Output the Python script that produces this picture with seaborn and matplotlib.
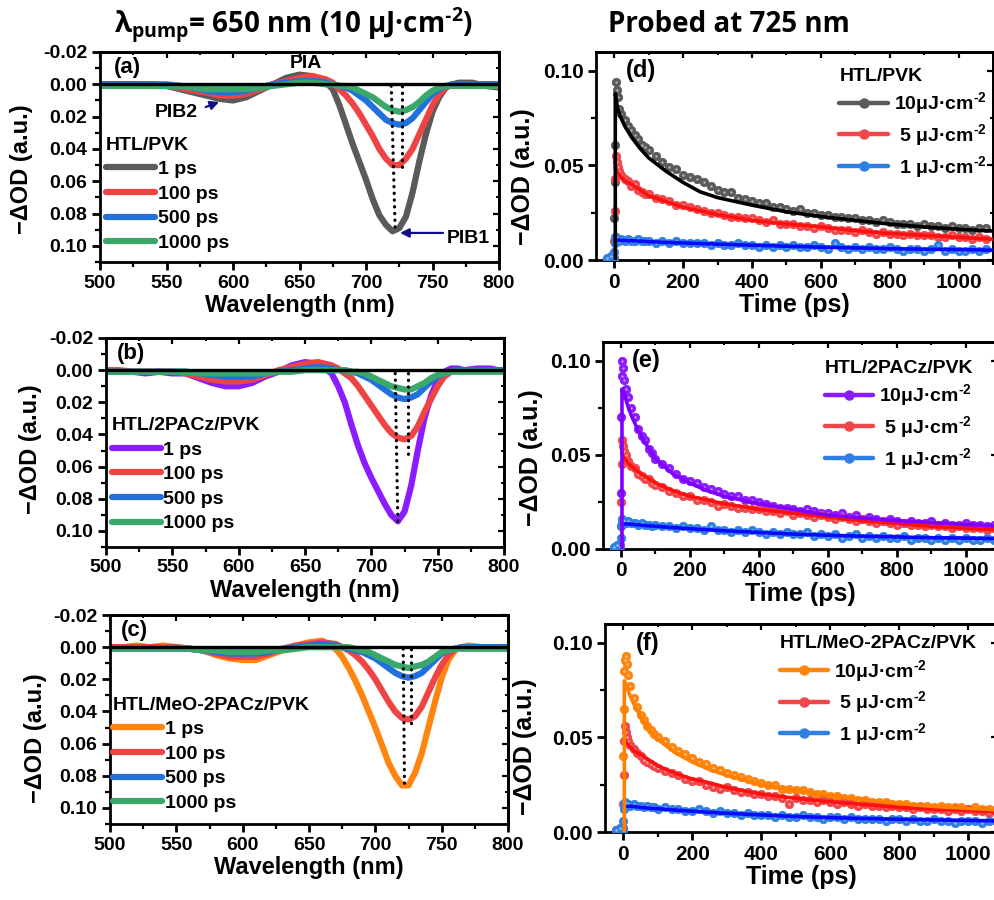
import matplotlib
matplotlib.use("Agg")
import matplotlib.pyplot as plt
from matplotlib.lines import Line2D
from matplotlib.ticker import MultipleLocator, FormatStrFormatter
import seaborn as sns

sns.set_style("ticks")
plt.rcParams.update({
    "font.family": ["Liberation Sans", "DejaVu Sans"],
    "font.weight": "bold",
    "axes.labelweight": "bold",
    "mathtext.default": "regular",
    "axes.unicode_minus": False,
    "axes.linewidth": 2.0,
    "axes.edgecolor": "black",
    "axes.labelcolor": "black",
    "text.color": "black",
    "xtick.color": "black",
    "ytick.color": "black",
    "xtick.labelcolor": "black",
    "ytick.labelcolor": "black",
})

# ---------------- transient absorption spectra ----------------
WL = [500, 510, 520, 530, 540, 550, 560, 570, 580, 590,
      600, 610, 620, 630, 640, 650, 660, 670, 675, 680,
      685, 690, 695, 700, 705, 710, 715, 720, 725, 730,
      735, 740, 745, 750, 755, 760, 765, 770, 780, 790, 800]
DELAYS = ["1 ps", "100 ps", "500 ps", "1000 ps"]

a_1ps = [0.000, 0.000, 0.000, 0.000, 0.001, 0.001, 0.003, 0.005, 0.007, 0.009,
         0.010, 0.008, 0.004, 0.000, -0.004, -0.006, -0.005, -0.001, 0.003, 0.013,
         0.025, 0.037, 0.048, 0.059, 0.071, 0.081, 0.087, 0.091, 0.089, 0.082,
         0.067, 0.048, 0.031, 0.017, 0.008, 0.002, 0.000, -0.001, -0.001, 0.001, 0.002]
a_100ps = [0.000, 0.000, 0.000, 0.000, 0.000, 0.001, 0.002, 0.004, 0.005, 0.007,
           0.007, 0.006, 0.003, 0.000, -0.002, -0.004, -0.005, -0.003, -0.001, 0.003,
           0.007, 0.012, 0.018, 0.025, 0.032, 0.040, 0.046, 0.050, 0.050, 0.046,
           0.040, 0.031, 0.022, 0.013, 0.006, 0.002, 0.000, 0.000, 0.000, 0.000, 0.000]
a_500ps = [0.000, 0.000, 0.000, 0.000, 0.000, 0.000, 0.001, 0.002, 0.004, 0.005,
           0.005, 0.004, 0.002, 0.000, -0.001, -0.002, -0.002, -0.001, 0.000, 0.001,
           0.002, 0.004, 0.007, 0.010, 0.014, 0.018, 0.022, 0.024, 0.025, 0.024,
           0.021, 0.016, 0.011, 0.006, 0.003, 0.001, 0.000, 0.000, 0.000, 0.000, 0.000]
a_1000ps = [0.001, 0.001, 0.001, 0.001, 0.001, 0.001, 0.001, 0.002, 0.003, 0.003,
            0.003, 0.003, 0.002, 0.001, 0.000, -0.001, -0.001, 0.000, 0.000, 0.001,
            0.001, 0.002, 0.004, 0.006, 0.008, 0.011, 0.014, 0.016, 0.017, 0.016,
            0.014, 0.011, 0.007, 0.004, 0.002, 0.001, 0.001, 0.001, 0.001, 0.001, 0.001]

b_1ps = [0.001, 0.001, 0.001, 0.002, 0.001, 0.002, 0.002, 0.005, 0.008, 0.010,
         0.010, 0.008, 0.004, 0.001, -0.003, -0.005, -0.004, 0.002, 0.010, 0.020,
         0.034, 0.047, 0.058, 0.067, 0.075, 0.083, 0.090, 0.094, 0.088, 0.072,
         0.050, 0.030, 0.016, 0.006, 0.001, -0.001, -0.001, 0.000, -0.001, -0.001, 0.001]
b_100ps = [0.000, 0.000, 0.001, 0.001, 0.001, 0.001, 0.002, 0.004, 0.006, 0.007,
           0.007, 0.006, 0.003, 0.000, -0.002, -0.004, -0.005, -0.003, -0.001, 0.002,
           0.005, 0.010, 0.016, 0.022, 0.028, 0.034, 0.039, 0.042, 0.043, 0.041,
           0.035, 0.026, 0.018, 0.010, 0.004, 0.001, 0.000, 0.000, 0.000, 0.000, 0.000]
b_500ps = [0.001, 0.001, 0.001, 0.001, 0.001, 0.001, 0.001, 0.002, 0.003, 0.004,
           0.004, 0.004, 0.002, 0.001, 0.000, -0.001, -0.002, -0.001, 0.000, 0.000,
           0.001, 0.002, 0.004, 0.006, 0.009, 0.012, 0.015, 0.017, 0.018, 0.017,
           0.015, 0.011, 0.007, 0.004, 0.002, 0.001, 0.000, 0.000, 0.000, 0.000, 0.000]
b_1000ps = [0.001, 0.001, 0.001, 0.001, 0.001, 0.001, 0.001, 0.002, 0.002, 0.002,
            0.002, 0.002, 0.002, 0.001, 0.001, 0.000, 0.000, 0.000, 0.000, 0.000,
            0.001, 0.001, 0.002, 0.004, 0.006, 0.008, 0.010, 0.011, 0.012, 0.012,
            0.010, 0.008, 0.005, 0.003, 0.002, 0.001, 0.001, 0.001, 0.001, 0.001, 0.001]

c_1ps = [0.000, 0.000, -0.001, 0.000, -0.001, 0.000, 0.001, 0.002, 0.005, 0.007,
         0.008, 0.008, 0.005, 0.002, -0.001, -0.003, -0.004, 0.001, 0.006, 0.013,
         0.021, 0.030, 0.040, 0.050, 0.061, 0.072, 0.080, 0.086, 0.086, 0.078,
         0.066, 0.050, 0.034, 0.019, 0.008, 0.002, 0.000, -0.001, 0.000, 0.000, 0.001]
c_100ps = [0.000, 0.000, 0.000, 0.000, 0.000, 0.000, 0.001, 0.002, 0.004, 0.006,
           0.006, 0.006, 0.004, 0.001, -0.001, -0.002, -0.003, -0.002, 0.000, 0.002,
           0.005, 0.009, 0.014, 0.020, 0.027, 0.034, 0.040, 0.044, 0.045, 0.043,
           0.037, 0.028, 0.019, 0.011, 0.005, 0.001, 0.000, 0.000, 0.000, 0.000, 0.000]
c_500ps = [0.001, 0.001, 0.001, 0.001, 0.001, 0.001, 0.001, 0.002, 0.003, 0.004,
           0.004, 0.004, 0.003, 0.001, 0.000, -0.001, -0.002, -0.001, 0.000, 0.001,
           0.002, 0.003, 0.005, 0.007, 0.010, 0.013, 0.016, 0.018, 0.019, 0.018,
           0.016, 0.012, 0.008, 0.004, 0.002, 0.001, 0.000, 0.000, 0.000, 0.000, 0.000]
c_1000ps = [0.001, 0.001, 0.001, 0.001, 0.001, 0.001, 0.001, 0.002, 0.002, 0.003,
            0.003, 0.003, 0.002, 0.002, 0.001, 0.000, 0.000, 0.000, 0.000, 0.000,
            0.001, 0.002, 0.003, 0.005, 0.007, 0.009, 0.011, 0.012, 0.013, 0.012,
            0.011, 0.009, 0.006, 0.003, 0.002, 0.001, 0.001, 0.001, 0.001, 0.001, 0.001]

# bleach-peak guide lines: (x0, y0, x1, y1)
a_guides = [(719, 0.001, 722, 0.092), (727, 0.001, 727, 0.053)]
b_guides = [(718, 0.002, 720, 0.096), (728, 0.002, 728, 0.052)]
c_guides = [(721, 0.001, 722, 0.088), (727, 0.001, 727, 0.049)]

# ---------------- kinetics probed at 725 nm ----------------
T = [-20, -10, -2, 0, 1, 2, 4, 7, 10, 15, 20, 30, 40, 50, 60, 70, 80, 90,
     100, 120, 140, 160, 180, 200, 220, 240, 260, 280, 300, 320, 340, 360, 380, 400,
     420, 440, 460, 480, 500, 520, 540, 560, 580, 600, 620, 640, 660, 680, 700,
     720, 740, 760, 780, 800, 820, 840, 860, 880, 900, 920, 940, 960, 980, 1000,
     1020, 1040, 1060, 1080]
T_FIT = [3, 10, 20, 30, 50, 75, 100, 150, 200, 250, 300, 400, 500, 600, 700, 800, 900, 1000, 1100]
FLUENCES = ["10μJ·cm$^{\u2010 2}$", " 5 μJ·cm$^{\u2010 2}$", " 1 μJ·cm$^{\u2010 2}$"]

d_10 = [0.000, 0.001, 0.000, 0.022, 0.041, 0.061, 0.094, 0.090, 0.086, 0.080, 0.077, 0.074, 0.071, 0.069, 0.066, 0.064, 0.061, 0.060,
        0.058, 0.055, 0.052, 0.049, 0.048, 0.045, 0.044, 0.043, 0.041, 0.039, 0.037, 0.036, 0.036, 0.033, 0.032, 0.031,
        0.030, 0.030, 0.028, 0.028, 0.027, 0.026, 0.027, 0.025, 0.025, 0.024, 0.024, 0.023, 0.023, 0.022, 0.022,
        0.021, 0.021, 0.020, 0.021, 0.020, 0.019, 0.019, 0.019, 0.018, 0.019, 0.018, 0.018, 0.017, 0.018, 0.017,
        0.017, 0.016, 0.017, 0.017]
d_5 = [0.000, 0.001, 0.001, 0.010, 0.026, 0.043, 0.055, 0.052, 0.049, 0.047, 0.045, 0.043, 0.042, 0.039, 0.040, 0.037, 0.036, 0.035,
       0.035, 0.033, 0.032, 0.031, 0.029, 0.029, 0.028, 0.027, 0.026, 0.025, 0.025, 0.024, 0.023, 0.023, 0.022, 0.022,
       0.021, 0.020, 0.021, 0.019, 0.019, 0.019, 0.018, 0.018, 0.017, 0.018, 0.017, 0.016, 0.016, 0.016, 0.015,
       0.016, 0.015, 0.014, 0.015, 0.014, 0.014, 0.013, 0.014, 0.013, 0.013, 0.013, 0.012, 0.012, 0.013, 0.012,
       0.012, 0.011, 0.012, 0.011]
d_1 = [0.001, 0.002, 0.001, 0.004, 0.009, 0.012, 0.012, 0.011, 0.011, 0.010, 0.011, 0.010, 0.011, 0.010, 0.010, 0.011, 0.010, 0.010,
       0.010, 0.009, 0.010, 0.009, 0.010, 0.009, 0.009, 0.009, 0.009, 0.008, 0.009, 0.008, 0.008, 0.009, 0.008, 0.008,
       0.007, 0.008, 0.007, 0.008, 0.007, 0.008, 0.007, 0.007, 0.008, 0.007, 0.006, 0.009, 0.007, 0.006, 0.007,
       0.006, 0.007, 0.006, 0.006, 0.007, 0.006, 0.005, 0.006, 0.006, 0.005, 0.006, 0.008, 0.005, 0.006, 0.005,
       0.005, 0.006, 0.005, 0.006]
d_fit10 = [0.088, 0.080, 0.075, 0.071, 0.065, 0.059, 0.054, 0.047, 0.041, 0.036, 0.033, 0.029, 0.0255, 0.023, 0.021, 0.019, 0.0175, 0.0163, 0.0153]
d_fit5 = [0.049, 0.046, 0.044, 0.042, 0.040, 0.037, 0.034, 0.031, 0.028, 0.026, 0.024, 0.021, 0.019, 0.0175, 0.0155, 0.014, 0.013, 0.012, 0.011]
d_fit1 = [0.0105, 0.0105, 0.0104, 0.0103, 0.0102, 0.0100, 0.0097, 0.0093, 0.0090, 0.0087, 0.0084, 0.0078, 0.0073, 0.0068, 0.0064, 0.0060, 0.0057, 0.0055, 0.0052]

e_10 = [0.000, 0.001, 0.002, 0.030, 0.070, 0.092, 0.100, 0.096, 0.090, 0.085, 0.081, 0.075, 0.070, 0.064, 0.060, 0.058, 0.053, 0.051,
        0.048, 0.045, 0.043, 0.040, 0.037, 0.036, 0.035, 0.033, 0.032, 0.031, 0.029, 0.028, 0.028, 0.026, 0.026, 0.025,
        0.024, 0.023, 0.022, 0.022, 0.021, 0.020, 0.021, 0.020, 0.019, 0.019, 0.018, 0.019, 0.017, 0.018, 0.016,
        0.017, 0.016, 0.015, 0.016, 0.015, 0.014, 0.015, 0.014, 0.014, 0.015, 0.013, 0.014, 0.013, 0.013, 0.014,
        0.013, 0.013, 0.012, 0.013]
e_5 = [0.000, 0.001, 0.002, 0.012, 0.025, 0.045, 0.058, 0.055, 0.052, 0.050, 0.047, 0.044, 0.043, 0.040, 0.039, 0.037, 0.037, 0.035,
       0.034, 0.033, 0.031, 0.030, 0.028, 0.028, 0.026, 0.026, 0.025, 0.023, 0.024, 0.023, 0.022, 0.022, 0.021, 0.021,
       0.020, 0.020, 0.019, 0.020, 0.018, 0.019, 0.018, 0.017, 0.018, 0.017, 0.016, 0.017, 0.016, 0.015, 0.016,
       0.015, 0.014, 0.015, 0.014, 0.013, 0.014, 0.013, 0.013, 0.012, 0.013, 0.012, 0.012, 0.011, 0.012, 0.011,
       0.011, 0.011, 0.010, 0.011]
e_1 = [0.001, 0.002, 0.001, 0.006, 0.012, 0.015, 0.016, 0.015, 0.015, 0.014, 0.015, 0.014, 0.014, 0.013, 0.014, 0.013, 0.013, 0.012,
       0.013, 0.012, 0.012, 0.011, 0.012, 0.011, 0.011, 0.010, 0.012, 0.010, 0.010, 0.009, 0.010, 0.009, 0.010, 0.009,
       0.008, 0.009, 0.008, 0.009, 0.008, 0.008, 0.009, 0.007, 0.008, 0.007, 0.008, 0.006, 0.007, 0.008, 0.006,
       0.007, 0.006, 0.007, 0.006, 0.006, 0.007, 0.005, 0.006, 0.006, 0.005, 0.006, 0.005, 0.006, 0.005, 0.006,
       0.005, 0.005, 0.006, 0.005]
e_fit10 = [0.085, 0.082, 0.076, 0.071, 0.063, 0.055, 0.048, 0.040, 0.035, 0.031, 0.028, 0.024, 0.021, 0.018, 0.0165, 0.015, 0.014, 0.013, 0.012]
e_fit5 = [0.050, 0.048, 0.046, 0.044, 0.041, 0.038, 0.035, 0.031, 0.028, 0.026, 0.024, 0.021, 0.019, 0.017, 0.015, 0.0135, 0.012, 0.011, 0.010]
e_fit1 = [0.0135, 0.0134, 0.0133, 0.0132, 0.0128, 0.0124, 0.0121, 0.0114, 0.0108, 0.0102, 0.0097, 0.0088, 0.0079, 0.0073, 0.0068, 0.0064, 0.0060, 0.0058, 0.0055]

f_10 = [0.001, 0.000, 0.002, 0.040, 0.065, 0.085, 0.091, 0.093, 0.089, 0.083, 0.077, 0.071, 0.066, 0.062, 0.059, 0.056, 0.054, 0.052,
        0.050, 0.048, 0.045, 0.043, 0.041, 0.039, 0.037, 0.036, 0.034, 0.033, 0.031, 0.030, 0.029, 0.028, 0.027, 0.026,
        0.025, 0.025, 0.023, 0.023, 0.022, 0.022, 0.021, 0.020, 0.020, 0.019, 0.019, 0.018, 0.018, 0.017, 0.017,
        0.016, 0.016, 0.016, 0.015, 0.015, 0.015, 0.014, 0.014, 0.014, 0.013, 0.014, 0.013, 0.013, 0.013, 0.012,
        0.013, 0.012, 0.012, 0.012]
f_5 = [0.001, 0.000, 0.002, 0.015, 0.030, 0.048, 0.056, 0.053, 0.050, 0.048, 0.046, 0.044, 0.042, 0.040, 0.038, 0.037, 0.036, 0.035,
       0.034, 0.032, 0.031, 0.030, 0.028, 0.027, 0.027, 0.025, 0.024, 0.023, 0.024, 0.022, 0.021, 0.021, 0.020, 0.020,
       0.019, 0.019, 0.018, 0.015, 0.018, 0.017, 0.017, 0.016, 0.017, 0.016, 0.015, 0.016, 0.015, 0.014, 0.015,
       0.014, 0.014, 0.013, 0.014, 0.013, 0.013, 0.012, 0.013, 0.012, 0.012, 0.012, 0.011, 0.012, 0.011, 0.012,
       0.011, 0.011, 0.010, 0.011]
f_1 = [0.001, 0.002, 0.001, 0.006, 0.012, 0.015, 0.016, 0.015, 0.015, 0.015, 0.014, 0.015, 0.014, 0.014, 0.013, 0.014, 0.013, 0.013,
       0.012, 0.013, 0.012, 0.012, 0.011, 0.011, 0.012, 0.011, 0.010, 0.011, 0.010, 0.010, 0.009, 0.010, 0.009, 0.009,
       0.009, 0.008, 0.009, 0.008, 0.008, 0.009, 0.008, 0.008, 0.007, 0.008, 0.008, 0.007, 0.008, 0.007, 0.007,
       0.007, 0.007, 0.006, 0.007, 0.007, 0.006, 0.007, 0.006, 0.006, 0.007, 0.006, 0.006, 0.005, 0.006, 0.006,
       0.006, 0.005, 0.006, 0.006]
f_fit10 = [0.080, 0.077, 0.072, 0.068, 0.061, 0.054, 0.049, 0.042, 0.037, 0.033, 0.030, 0.025, 0.022, 0.019, 0.017, 0.015, 0.0135, 0.0125, 0.0115]
f_fit5 = [0.049, 0.047, 0.045, 0.043, 0.041, 0.038, 0.035, 0.031, 0.028, 0.026, 0.0235, 0.020, 0.0178, 0.016, 0.0145, 0.013, 0.012, 0.0113, 0.0105]
f_fit1 = [0.0138, 0.0137, 0.0136, 0.0135, 0.0130, 0.0126, 0.0123, 0.0116, 0.0110, 0.0104, 0.0099, 0.0090, 0.0082, 0.0076, 0.0071, 0.0067, 0.0064, 0.0061, 0.0058]

# colours
GRAY, RED, BLUE, GREEN = "#5a5a5a", "#ef4444", "#2171dd", "#3aa86a"
PURPLE, ORANGE = "#8b1cff", "#ff8410"
KIN_RED, KIN_BLUE = "#f0474a", "#2f80e2"

W, H = 995, 900
fig = plt.figure(figsize=(W / 100, H / 100), dpi=100)


def rect(l, t, r, b):
    return [l / W, 1 - b / H, (r - l) / W, (b - t) / H]


def style_axes(ax, xmaj, xmin, ymaj, ymin, labelsize):
    ax.xaxis.set_major_locator(MultipleLocator(xmaj))
    ax.xaxis.set_minor_locator(MultipleLocator(xmin))
    ax.yaxis.set_major_locator(MultipleLocator(ymaj))
    ax.yaxis.set_minor_locator(MultipleLocator(ymin))
    ax.yaxis.set_major_formatter(FormatStrFormatter("%.2f"))
    ax.tick_params(which="major", direction="out", length=6, width=2.0,
                   labelsize=labelsize, pad=3, colors="black")
    ax.tick_params(which="minor", direction="out", length=3.5, width=1.6, colors="black")
    for side, axis in (("top", "x"), ("right", "y")):
        sec = ax.secondary_xaxis(side) if axis == "x" else ax.secondary_yaxis(side)
        loc = sec.xaxis if axis == "x" else sec.yaxis
        loc.set_major_locator(MultipleLocator(xmaj if axis == "x" else ymaj))
        loc.set_minor_locator(MultipleLocator(xmin if axis == "x" else ymin))
        sec.tick_params(which="major", direction="in", length=4, width=1.6,
                        labeltop=False, labelright=False, colors="black")
        sec.tick_params(which="minor", direction="in", length=2.5, width=1.4, colors="black")
        sec.spines[side].set_linewidth(2.0)
        sec.spines[side].set_color("black")


def draw_spectra(box, curves, colors, sample, guides, tag, tag_xy, leg_xy, ylab_xy):
    ax = fig.add_axes(rect(*box))
    for vals, c in zip(curves, colors):
        sns.lineplot(x=WL, y=vals, ax=ax, color=c, linewidth=4.5, estimator=None,
                     sort=False, legend=False, zorder=2)
    ax.axhline(0, color="black", lw=2.4, zorder=4)
    for x0, y0, x1, y1 in guides:
        ax.plot([x0, x1], [y0, y1], color="black", lw=2.3, ls=(0, (0.1, 2.0)),
                dash_capstyle="round", zorder=5)
    ax.set_xlim(500, 800)
    ax.set_ylim(0.11, -0.02)
    style_axes(ax, 50, 25, 0.02, 0.01, 14)
    ax.set_xlabel("Wavelength (nm)", fontsize=17, labelpad=2)
    ax.set_ylabel("−ΔOD (a.u.)", fontsize=17)
    ax.yaxis.set_label_coords(*ylab_xy)
    ax.text(tag_xy[0], tag_xy[1], tag, transform=ax.transAxes, fontsize=16,
            ha="left", va="top")
    handles = [Line2D([0], [0], color=c, lw=4.5) for c in colors]
    leg = ax.legend(handles, DELAYS, title=sample, loc="upper left", bbox_to_anchor=leg_xy,
                    frameon=False, fontsize=14, title_fontsize=14, handlelength=2.5,
                    handletextpad=0.15, labelspacing=0.36, borderpad=0, borderaxespad=0,
                    alignment="left")
    leg.get_title().set_fontweight("bold")
    return ax


def draw_kinetics(box, xlim, data, fits, mcolors, fcolors, sample, tag, tag_xy, leg_xy, ylab_xy):
    ax = fig.add_axes(rect(*box))
    for i, (vals, c) in enumerate(zip(data, mcolors)):
        sns.scatterplot(x=T, y=vals, ax=ax, color=c, s=36, edgecolor=c, linewidth=0.6,
                        legend=False, zorder=3 + 0.1 * i)
        sns.scatterplot(x=T, y=vals, ax=ax, color="white", s=3, alpha=0.55, linewidth=0,
                        legend=False, zorder=3.05 + 0.1 * i)
    for i, (vals, c) in enumerate(zip(fits, fcolors)):
        xs, ys = list(T_FIT), list(vals)
        if i == 0:
            xs, ys = [T_FIT[0]] + xs, [0.0] + ys
        sns.lineplot(x=xs, y=ys, ax=ax, color=c, linewidth=2.6, estimator=None,
                     sort=False, legend=False, zorder=4 - 0.1 * i)
    ax.set_xlim(*xlim)
    ax.set_ylim(0, 0.11)
    style_axes(ax, 200, 100, 0.05, 0.025, 15)
    ax.set_xlabel("Time (ps)", fontsize=18, labelpad=1)
    ax.set_ylabel("−ΔOD (a.u.)", fontsize=18)
    ax.yaxis.set_label_coords(*ylab_xy)
    ax.text(tag_xy[0], tag_xy[1], tag, transform=ax.transAxes, fontsize=17,
            ha="left", va="top")
    handles = [Line2D([0], [0], color=c, lw=3.2, marker="o", ms=6.5, mfc=c, mec=c)
               for c in mcolors]
    leg = ax.legend(handles, FLUENCES, title=sample, loc="upper left", bbox_to_anchor=leg_xy,
                    frameon=False, fontsize=14, title_fontsize=14, handlelength=2.5,
                    handletextpad=0.3, labelspacing=0.3, borderpad=0, borderaxespad=0,
                    alignment="left")
    leg.get_title().set_fontweight("bold")
    return ax


ax_a = draw_spectra((100, 52, 499, 262), [a_1ps, a_100ps, a_500ps, a_1000ps],
                    [GRAY, RED, BLUE, GREEN], "HTL/PVK", a_guides, "(a)",
                    (0.035, 0.975), (0.015, 0.597), (-0.168, 0.44))
draw_spectra((106, 338, 504, 547), [b_1ps, b_100ps, b_500ps, b_1000ps],
             [PURPLE, RED, BLUE, GREEN], "HTL/2PACz/PVK", b_guides, "(b)",
             (0.028, 0.976), (0.015, 0.622), (-0.162, 0.47))
draw_spectra((110, 615, 508, 824), [c_1ps, c_100ps, c_500ps, c_1000ps],
             [ORANGE, RED, BLUE, GREEN], "HTL/MeO-2PACz/PVK", c_guides, "(c)",
             (0.028, 0.976), (0.008, 0.61), (-0.158, 0.41))

# feature labels in panel (a)
arrow_kw = dict(arrowstyle="-|>", color="#10108a", lw=1.6, mutation_scale=13)
ax_a.text(655, -0.0126, "PIA", fontsize=14, ha="center", va="center")
ax_a.text(557, 0.0177, "PIB2", fontsize=14, ha="center", va="center")
ax_a.annotate("", xy=(591.5, 0.0103), xytext=(577.5, 0.0147), arrowprops=arrow_kw)
ax_a.text(777, 0.0957, "PIB1", fontsize=14, ha="center", va="center")
ax_a.annotate("", xy=(723.5, 0.092), xytext=(760, 0.092), arrowprops=arrow_kw)

draw_kinetics((596, 52, 993, 260), (-53, 1100), [d_10, d_5, d_1], [d_fit10, d_fit5, d_fit1],
              [GRAY, KIN_RED, KIN_BLUE], ["black", "#ff1010", "#0a0aff"], "HTL/PVK", "(d)",
              (0.075, 0.965), (0.613, 0.925), (-0.154, 0.40))
draw_kinetics((603, 342, 997, 549), (-52, 1090), [e_10, e_5, e_1], [e_fit10, e_fit5, e_fit1],
              [PURPLE, KIN_RED, KIN_BLUE], ["#8000ff", "#ff1010", "#0a0aff"], "HTL/2PACz/PVK", "(e)",
              (0.074, 0.965), (0.563, 0.915), (-0.152, 0.44))
draw_kinetics((605, 624, 997, 832), (-53, 1083), [f_10, f_5, f_1], [f_fit10, f_fit5, f_fit1],
              [ORANGE, KIN_RED, KIN_BLUE], ["#ff8000", "#ff1010", "#0a0aff"], "HTL/MeO-2PACz/PVK", "(f)",
              (0.080, 0.962), (0.446, 0.948), (-0.173, 0.41))

fig.text(294 / W, 1 - 25 / H, "λ$_{pump}$= 650 nm (10 μJ·cm$^{\u2010 2}$)", fontsize=20,
         family=["Open Sans", "DejaVu Sans"], weight="bold", ha="center", va="center")
fig.text(729 / W, 1 - 24 / H, "Probed at 725 nm", fontsize=20,
         family=["Open Sans", "DejaVu Sans"], weight="bold", ha="center", va="center")

fig.savefig("out.png", dpi=100)
